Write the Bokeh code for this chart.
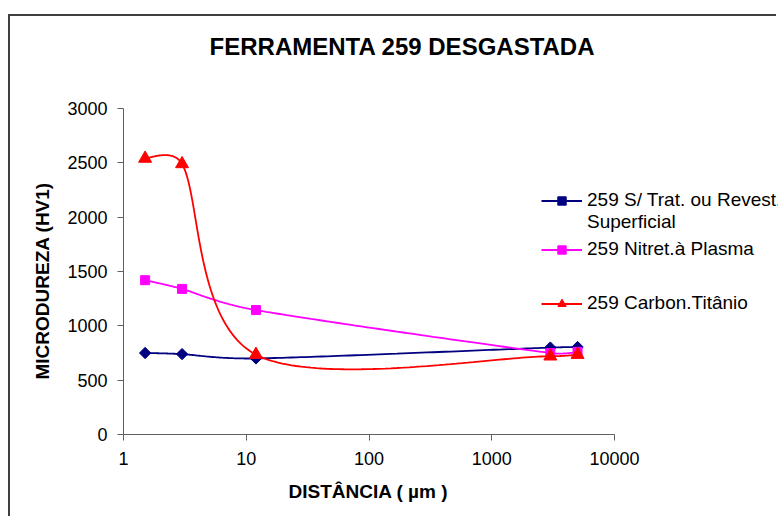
import numpy as np
from bokeh.plotting import figure
from bokeh.models import (Legend, LegendItem, Range1d, FixedTicker,
                          NumeralTickFormatter, Label, Title)
from bokeh.embed import file_html
from bokeh.resources import INLINE

# ---- data ----
distance = [1.5, 3, 12, 3000, 5000]          # µm
untreated = [750, 740, 700, 800, 805]        # 259 S/ Trat. ou Revest. Superficial
nitrided = [1420, 1340, 1145, 750, 760]      # 259 Nitret.à Plasma
carbon_ti = [2540, 2490, 735, 720, 735]      # 259 Carbon.Titânio
x_ticks = [1, 10, 100, 1000, 10000]
y_ticks = [0, 500, 1000, 1500, 2000, 2500, 3000]

title_text = "FERRAMENTA 259 DESGASTADA"
x_label = "DISTÂNCIA ( µm )"
y_label = "MICRODUREZA (HV1)"
labels = ["259 S/ Trat. ou Revest.", "Superficial",
          "259 Nitret.à Plasma", "259 Carbon.Titânio"]

FONT = "Liberation Sans"
W, H = 768, 502
LEFT, BOTTOM = 113, 84
FRAME_W, FRAME_H = W - LEFT, H - BOTTOM
PX_DECADE = 122.75            # pixels per decade on the x axis
PX_UNIT = 326 / 3000.0        # pixels per HV unit on the y axis


def excel_smooth(xs, ys, n=60):
    """Excel-style smoothed line (Bezier with capped Catmull-Rom controls),
    computed in screen-proportional space."""
    pts = np.column_stack([np.log10(xs) * PX_DECADE, np.asarray(ys, float) * PX_UNIT])
    m = len(pts)
    out_u, out_v = [pts[0][0]], [pts[0][1]]
    t = np.linspace(0, 1, n)[1:]
    for i in range(m - 1):
        p1, p2 = pts[i], pts[i + 1]
        first = i == 0
        last = i + 2 >= m
        p0 = p1 if first else pts[i - 1]
        p3 = p2 if last else pts[i + 2]
        d12 = np.hypot(*(p2 - p1))
        d02 = np.hypot(*(p2 - p0))
        d13 = np.hypot(*(p3 - p1))
        f1 = 1 / 3 if first else 1 / 6
        f2 = 1 / 3 if last else 1 / 6
        cap1 = d02 * f1 >= d12 / 2
        cap2 = d13 * f2 >= d12 / 2
        if not cap1 and not cap2:
            b1 = p1 + (p2 - p0) * f1
            b2 = p2 - (p3 - p1) * f2
        elif cap1 and cap2:
            b1 = p1 + (p2 - p0) * d12 / 2 / d02
            b2 = p2 - (p3 - p1) * d12 / 2 / d13
        elif cap1:
            b1 = p1 + (p2 - p0) * d12 / 2 / d02
            b2 = p2 - (p3 - p1) * d12 / 2 / d02
        else:
            b1 = p1 + (p2 - p0) * d12 / 2 / d13
            b2 = p2 - (p3 - p1) * d12 / 2 / d13
        c = np.outer((1 - t) ** 3, p1) + np.outer(3 * (1 - t) ** 2 * t, b1) \
            + np.outer(3 * (1 - t) * t ** 2, b2) + np.outer(t ** 3, p2)
        out_u.extend(c[:, 0])
        out_v.extend(c[:, 1])
    return 10 ** (np.array(out_u) / PX_DECADE), np.array(out_v) / PX_UNIT


# frame extends to the right and top edges so the legend/title are not clipped
x_end = 10 ** (FRAME_W / PX_DECADE)
y_end = FRAME_H / PX_UNIT

p = figure(width=W, height=H, x_axis_type="log",
           x_range=Range1d(1, x_end), y_range=Range1d(0, y_end),
           output_backend="svg", toolbar_location=None,
           min_border_left=LEFT, min_border_right=0,
           min_border_top=0, min_border_bottom=BOTTOM)
p.styles = {"border-top": "2px solid #404040", "border-left": "2px solid #404040",
            "position": "relative", "top": "14px", "left": "8px"}

p.outline_line_color = None
p.xgrid.visible = False
p.ygrid.visible = False
p.background_fill_color = "white"

for ax in (p.xaxis[0], p.yaxis[0]):
    ax.axis_line_color = "#606060"
    ax.major_tick_line_color = "#606060"
    ax.minor_tick_line_color = None
    ax.major_tick_out = 6
    ax.major_tick_in = 0
    ax.major_label_text_font = FONT
    ax.major_label_text_font_size = "18px"
    ax.major_label_text_color = "black"

p.xaxis.ticker = FixedTicker(ticks=x_ticks)
p.xaxis.bounds = (x_ticks[0], x_ticks[-1])
p.xaxis.formatter = NumeralTickFormatter(format="0")
p.xaxis.major_label_standoff = 11

p.yaxis.ticker = FixedTicker(ticks=y_ticks)
p.yaxis.bounds = (y_ticks[0], y_ticks[-1])
p.yaxis.formatter = NumeralTickFormatter(format="0")
p.yaxis.major_label_standoff = 10

# axis titles centred on the drawn axis extent
p.add_layout(Title(text=x_label, align="left", offset=165, standoff=22,
                   text_font=FONT, text_font_size="19px", text_font_style="bold",
                   text_color="black"), "below")
p.add_layout(Title(text=y_label, align="left", offset=55, standoff=24,
                   text_font=FONT, text_font_size="19px", text_font_style="bold",
                   text_color="black"), "left")

series = [
    (untreated, "#000080", "square", 8, np.pi / 4),
    (nitrided, "#FF00FF", "square", 9, 0),
    (carbon_ti, "#FF0000", "triangle", 13, 0),
]
renders = []
for ys, col, mk, sz, ang in series:
    sx, sy = excel_smooth(distance, ys)
    ln = p.line(sx, sy, line_color=col, line_width=1.8)
    sc = p.scatter(distance, ys, marker=mk, size=sz, angle=ang,
                   fill_color=col, line_color=col)
    renders.append([ln, sc])

blank = p.line([1], [0], line_alpha=0)

p.add_layout(Label(x=279, y=FRAME_H - 30, x_units="screen", y_units="screen",
                   text=title_text, text_font=FONT, text_font_size="24px",
                   text_font_style="bold", text_color="black",
                   text_align="center", text_baseline="middle"))


def make_legend(items, y):
    leg = Legend(items=items, location=(418, y), orientation="vertical",
                 padding=0, margin=0, spacing=0,
                 glyph_width=41, glyph_height=21, label_height=21,
                 label_standoff=5, border_line_alpha=0,
                 background_fill_alpha=0,
                 label_text_font=FONT, label_text_font_size="19px",
                 label_text_color="black")
    p.add_layout(leg, "center")


make_legend([LegendItem(label=labels[0], renderers=renders[0]),
             LegendItem(label=labels[1], renderers=[blank])], 201)
make_legend([LegendItem(label=labels[2], renderers=renders[1])], 174)
make_legend([LegendItem(label=labels[3], renderers=renders[2])], 120)

open("out.html", "w").write(file_html(p, INLINE))
